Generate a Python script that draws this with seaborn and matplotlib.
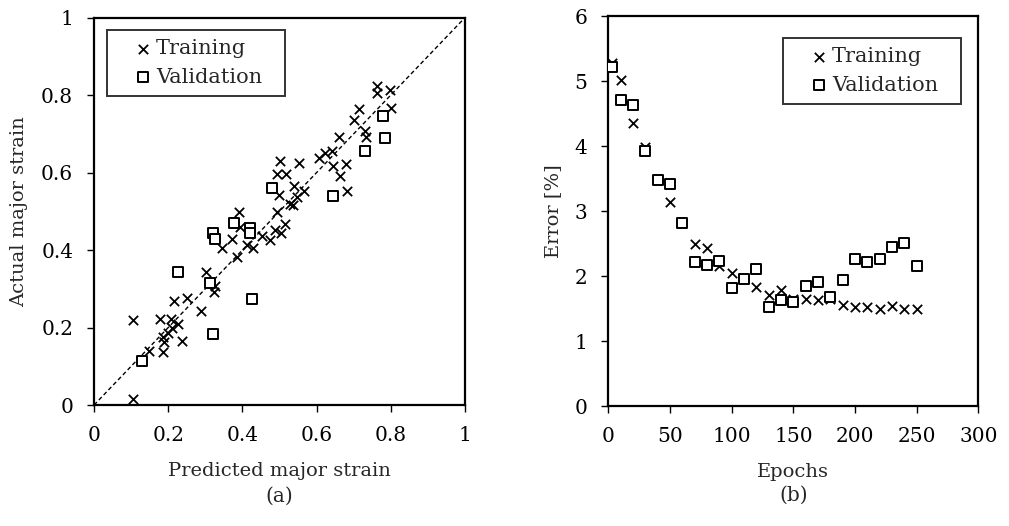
import matplotlib
matplotlib.use("Agg")
import matplotlib.pyplot as plt
import seaborn as sns

# Panel (a): predicted vs actual major strain
train_pred = [0.104, 0.104, 0.149, 0.178, 0.208, 0.186, 0.189, 0.186, 0.199, 0.211,
              0.225, 0.216, 0.250, 0.238, 0.289, 0.303, 0.325, 0.322, 0.345, 0.371,
              0.385, 0.392, 0.394, 0.412, 0.429, 0.452, 0.473, 0.488, 0.504, 0.515,
              0.492, 0.527, 0.537, 0.546, 0.499, 0.539, 0.566, 0.494, 0.517, 0.501,
              0.553, 0.607, 0.623, 0.641, 0.645, 0.663, 0.679, 0.681, 0.659, 0.730,
              0.733, 0.701, 0.715, 0.762, 0.762, 0.798, 0.800]
train_act = [0.015, 0.219, 0.140, 0.221, 0.221, 0.176, 0.163, 0.137, 0.186, 0.198,
             0.209, 0.268, 0.275, 0.166, 0.243, 0.344, 0.307, 0.292, 0.405, 0.428,
             0.383, 0.499, 0.460, 0.413, 0.404, 0.436, 0.426, 0.452, 0.443, 0.466,
             0.499, 0.520, 0.516, 0.537, 0.542, 0.565, 0.553, 0.596, 0.596, 0.631,
             0.624, 0.637, 0.651, 0.656, 0.617, 0.591, 0.622, 0.553, 0.692, 0.707,
             0.692, 0.735, 0.763, 0.823, 0.804, 0.813, 0.767]
val_pred = [0.130, 0.227, 0.313, 0.320, 0.326, 0.320, 0.376, 0.420, 0.420, 0.427,
            0.479, 0.645, 0.730, 0.780, 0.784]
val_act = [0.113, 0.342, 0.316, 0.445, 0.428, 0.182, 0.469, 0.456, 0.443, 0.273,
           0.559, 0.539, 0.655, 0.746, 0.688]
strain_ticks = [0, 0.2, 0.4, 0.6, 0.8, 1]
strain_labels = ["0", "0.2", "0.4", "0.6", "0.8", "1"]

# Panel (b): error vs epochs
epochs = [3, 10, 20, 30, 40, 50, 60, 70, 80, 90, 100, 110, 120, 130, 140, 150,
          160, 170, 180, 190, 200, 210, 220, 230, 240, 250]
train_err = [5.28, 5.02, 4.36, 3.99, 3.47, 3.14, 2.81, 2.50, 2.43, 2.16, 2.05, 1.95,
             1.83, 1.71, 1.78, 1.65, 1.64, 1.63, 1.64, 1.55, 1.53, 1.52, 1.49, 1.54,
             1.50, 1.49]
val_err = [5.22, 4.71, 4.63, 3.93, 3.47, 3.42, 2.81, 2.22, 2.17, 2.23, 1.81, 1.95,
           2.11, 1.52, 1.63, 1.60, 1.85, 1.91, 1.68, 1.94, 2.26, 2.22, 2.26, 2.45,
           2.51, 2.16]
epoch_ticks = [0, 50, 100, 150, 200, 250, 300]
err_ticks = [0, 1, 2, 3, 4, 5, 6]

sns.set_theme(style="ticks")
plt.rcParams["font.family"] = ["DejaVu Serif"]
plt.rcParams["axes.linewidth"] = 1.6
plt.rcParams["xtick.major.width"] = 1.0
plt.rcParams["ytick.major.width"] = 1.0
plt.rcParams["xtick.major.size"] = 5
plt.rcParams["ytick.major.size"] = 5

fig = plt.figure(figsize=(10.09, 5.26), dpi=100)
ax1 = fig.add_axes([0.0932, 0.230, 0.3677, 0.7367])
ax2 = fig.add_axes([0.6029, 0.2281, 0.3667, 0.7414])

x_style = dict(marker="x", color="black", s=45, linewidth=1.3)
sq_style = dict(marker="s", color="white", edgecolor="black", s=48, linewidth=1.4)


def draw_panel(ax, xt, yt, xv, yv):
    sns.scatterplot(x=xt, y=yt, ax=ax, label="Training", zorder=3, **x_style)
    sns.scatterplot(x=xv, y=yv, ax=ax, label="Validation", zorder=3, **sq_style)
    for s in ax.spines.values():
        s.set_color("black")
        s.set_visible(True)
    ax.tick_params(colors="black", labelsize=14.5, direction="out", pad=10,
                   right=False, top=False)


def boxed_legend(ax, anchor):
    # fixed-width box, marker pushed in from the left edge like the original
    leg = ax.legend(loc="upper left", bbox_to_anchor=anchor, mode="expand",
                    borderaxespad=0, fontsize=15, frameon=True, fancybox=False,
                    edgecolor="black", handlelength=2.56, handletextpad=-0.65,
                    borderpad=0.45, labelspacing=0.45)
    leg.get_frame().set_linewidth(1.4)
    return leg


# (a)
ax1.plot([0, 1], [0, 1], linestyle=(0, (3, 2)), color="black", linewidth=1.0, zorder=2)
draw_panel(ax1, train_pred, train_act, val_pred, val_act)
ax1.set_xlim(0, 1)
ax1.set_ylim(0, 1)
ax1.set_xticks(strain_ticks)
ax1.set_xticklabels(strain_labels)
ax1.set_yticks(strain_ticks)
ax1.set_yticklabels(strain_labels)
ax1.set_xlabel("Predicted major strain", fontsize=14, labelpad=12)
ax1.set_ylabel("Actual major strain", fontsize=14, labelpad=9)
boxed_legend(ax1, (0.035, 0.968, 0.48, 0.0))
ax1.text(0.5, -0.235, "(a)", transform=ax1.transAxes, ha="center", va="center", fontsize=14.5)

# (b)
draw_panel(ax2, epochs, train_err, epochs, val_err)
ax2.set_xlim(0, 300)
ax2.set_ylim(0, 6)
ax2.set_xticks(epoch_ticks)
ax2.set_yticks(err_ticks)
ax2.set_xlabel("Epochs", fontsize=14, labelpad=12)
ax2.set_ylabel("Error [%]", fontsize=14, labelpad=9)
boxed_legend(ax2, (0.472, 0.944, 0.481, 0.0))
ax2.text(0.5, -0.23, "(b)", transform=ax2.transAxes, ha="center", va="center", fontsize=14.5)

fig.savefig("out.png", dpi=100, facecolor="white")
